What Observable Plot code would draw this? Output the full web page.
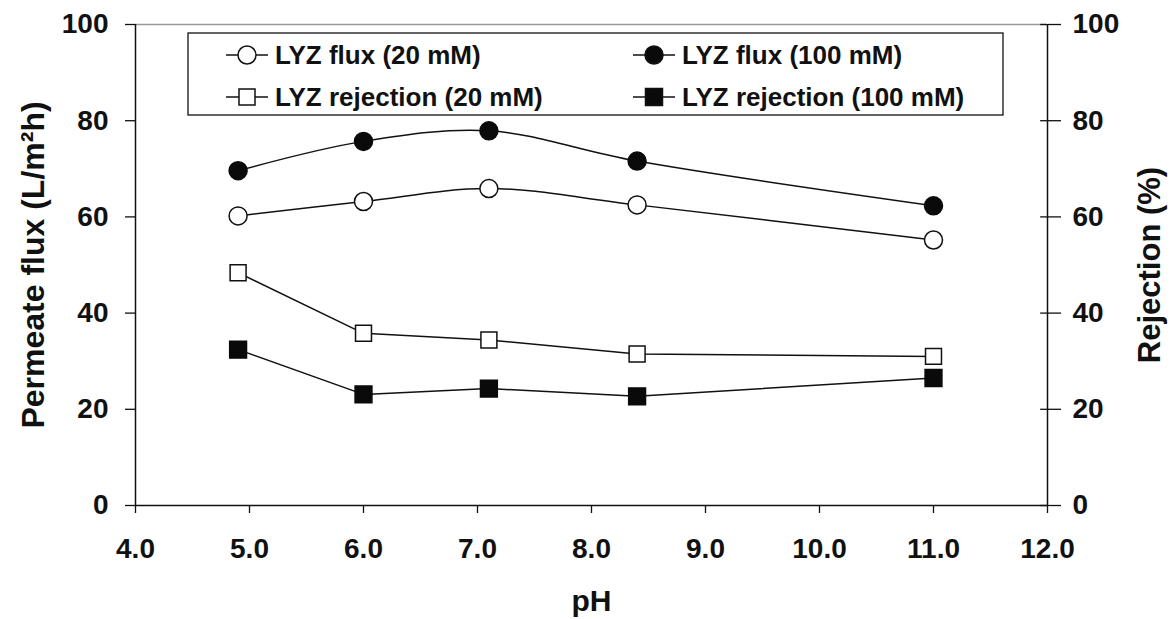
<!DOCTYPE html>
<html>
<head>
<meta charset="utf-8">
<script src="https://cdn.jsdelivr.net/npm/d3@7"></script>
<script src="https://cdn.jsdelivr.net/npm/@observablehq/plot@0.6"></script>
<style>
  body { margin: 0; background: white; }
</style>
</head>
<body>
<div id="chart"></div>
<script>
const pH = [4.9, 6.0, 7.1, 8.4, 11.0];
const flux20 = [60.2, 63.2, 65.9, 62.5, 55.2];
const flux100 = [69.6, 75.7, 77.9, 71.6, 62.3];
const rej20 = [48.4, 35.8, 34.4, 31.5, 31.0];
const rej100 = [32.4, 23.1, 24.3, 22.7, 26.5];
const xTicks = [4, 5, 6, 7, 8, 9, 10, 11, 12];
const yTicks = [0, 20, 40, 60, 80, 100];
const seriesNames = ["LYZ flux (20 mM)", "LYZ flux (100 mM)", "LYZ rejection (20 mM)", "LYZ rejection (100 mM)"];

const rows = (vals) => pH.map((x, i) => ({x, y: vals[i]}));
const F20 = rows(flux20), F100 = rows(flux100), R20 = rows(rej20), R100 = rows(rej100);

const font = "'Liberation Sans', Arial, Helvetica, sans-serif";

const svg = Plot.plot({
  width: 1172,
  height: 619,
  marginLeft: 135,
  marginRight: 125,
  marginTop: 24,
  marginBottom: 114,
  x: {domain: [4, 12]},
  y: {domain: [0, 100]},
  style: {fontFamily: font, fontWeight: "bold", background: "white", color: "#111"},
  marks: [
    Plot.ruleY([100], {stroke: "#999", strokeWidth: 1.5}),
    Plot.axisX({ticks: xTicks, tickFormat: d => d.toFixed(1), tickSize: 8, tickPadding: 25, fontSize: 28, fontWeight: "bold", label: null, strokeWidth: 1.3}),
    Plot.axisY({anchor: "left", ticks: yTicks, tickSize: 10, tickPadding: 17, fontSize: 28, fontWeight: "bold", label: null, strokeWidth: 1.3}),
    Plot.axisY({anchor: "right", ticks: yTicks, tickSize: 13, tickPadding: 12, fontSize: 28, fontWeight: "bold", label: null, strokeWidth: 1.3}),
    Plot.ruleY(yTicks, {y: d => d, x1: 11.94, x2: 12, stroke: "#111", strokeWidth: 1.3}),
    Plot.ruleX([4, 12], {stroke: "#111", strokeWidth: 1.5}),
    Plot.ruleY([0], {stroke: "#111", strokeWidth: 1.5}),
    Plot.line(F20, {x: "x", y: "y", curve: "catmull-rom", stroke: "#111", strokeWidth: 1.5}),
    Plot.line(F100, {x: "x", y: "y", curve: "catmull-rom", stroke: "#111", strokeWidth: 1.5}),
    Plot.line(R20, {x: "x", y: "y", stroke: "#111", strokeWidth: 1.5}),
    Plot.line(R100, {x: "x", y: "y", stroke: "#111", strokeWidth: 1.5}),
    Plot.dot(F20, {x: "x", y: "y", r: 9, symbol: "circle", fill: "white", stroke: "#111", strokeWidth: 1.5}),
    Plot.dot(F100, {x: "x", y: "y", r: 9, symbol: "circle", fill: "#0a0a0a", stroke: "#0a0a0a"}),
    Plot.dot(R20, {x: "x", y: "y", r: 9, symbol: "square", fill: "white", stroke: "#111", strokeWidth: 1.5}),
    Plot.dot(R100, {x: "x", y: "y", r: 9.5, symbol: "square", fill: "#0a0a0a", stroke: "#0a0a0a"}),
    Plot.text(["pH"], {frameAnchor: "bottom", dy: 96, textAnchor: "middle", lineAnchor: "middle", fontSize: 30, fontWeight: "bold", fill: "#111"}),
    Plot.text(["Permeate flux (L/m²h)"], {frameAnchor: "left", dx: -102, rotate: -90, textAnchor: "middle", lineAnchor: "middle", fontSize: 32, fontWeight: "bold", fill: "#111"}),
    Plot.text(["Rejection (%)"], {frameAnchor: "right", dx: 103, rotate: -90, textAnchor: "middle", lineAnchor: "middle", fontSize: 31, fontWeight: "bold", fill: "#111"})
  ]
});

// Legend box inside the SVG
const g = d3.select(svg).append("g").attr("font-family", font).attr("font-weight", "bold").attr("font-size", 26);
g.append("rect").attr("x", 188).attr("y", 33).attr("width", 815).attr("height", 82)
  .attr("fill", "white").attr("stroke", "#111").attr("stroke-width", 1.3);
const legendPos = [
  {lx: 226, y: 55, kind: "circle", filled: false},
  {lx: 633, y: 55, kind: "circle", filled: true},
  {lx: 226, y: 97, kind: "square", filled: false},
  {lx: 633, y: 97, kind: "square", filled: true}
];
legendPos.forEach((p, i) => {
  g.append("line").attr("x1", p.lx).attr("x2", p.lx + 42).attr("y1", p.y).attr("y2", p.y)
    .attr("stroke", "#111").attr("stroke-width", 1.5);
  const cx = p.lx + 21;
  if (p.kind === "circle") {
    g.append("circle").attr("cx", cx).attr("cy", p.y).attr("r", 9)
      .attr("fill", p.filled ? "#0a0a0a" : "white").attr("stroke", "#111").attr("stroke-width", 1.5);
  } else {
    const s = p.filled ? 17 : 16;
    g.append("rect").attr("x", cx - s / 2).attr("y", p.y - s / 2).attr("width", s).attr("height", s)
      .attr("fill", p.filled ? "#0a0a0a" : "white").attr("stroke", "#111").attr("stroke-width", 1.5);
  }
  g.append("text").attr("x", p.lx + 49).attr("y", p.y).attr("dy", "0.36em")
    .attr("text-anchor", "start").attr("fill", "#111").text(seriesNames[i]);
});

document.getElementById("chart").appendChild(svg);
</script>
</body>
</html>
